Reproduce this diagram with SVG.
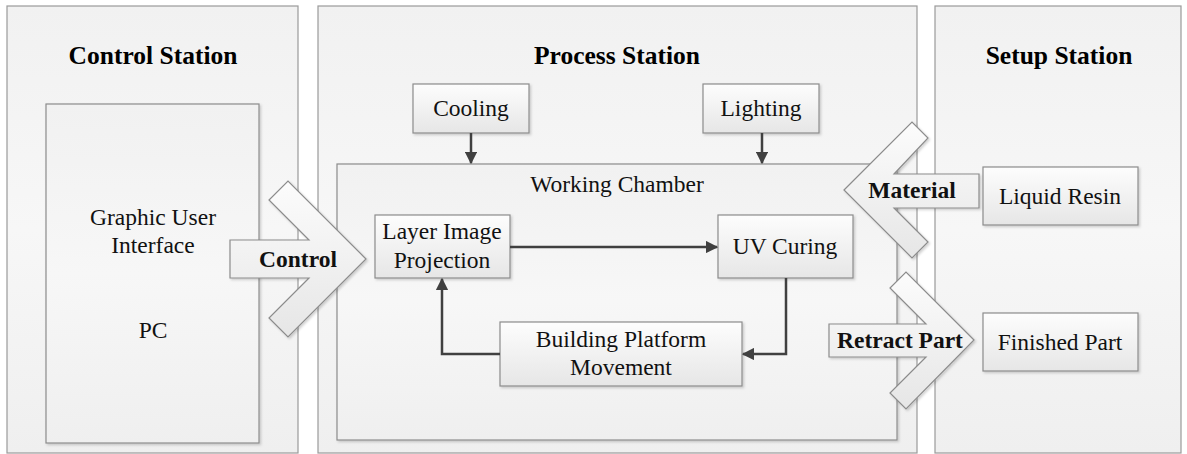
<svg xmlns="http://www.w3.org/2000/svg" width="1187" height="454" viewBox="0 0 1187 454">
<defs>
<linearGradient id="gPanel" x1="0" y1="0" x2="0" y2="1">
<stop offset="0" stop-color="#f1f1f1"/><stop offset="0.5" stop-color="#f7f7f7"/><stop offset="1" stop-color="#efefef"/>
</linearGradient>
<linearGradient id="gBox" x1="0" y1="0" x2="0" y2="1">
<stop offset="0" stop-color="#fdfdfd"/><stop offset="1" stop-color="#e6e6e6"/>
</linearGradient>
<linearGradient id="gArrow" x1="0" y1="0" x2="0" y2="1">
<stop offset="0" stop-color="#fcfcfc"/><stop offset="1" stop-color="#e6e6e6"/>
</linearGradient>
<filter id="sh" x="-10%" y="-10%" width="120%" height="130%">
<feDropShadow dx="1.5" dy="1.5" stdDeviation="1" flood-color="#000" flood-opacity="0.18"/>
</filter>
<marker id="ah" viewBox="0 0 10 10" refX="9" refY="5" markerWidth="5" markerHeight="5" orient="auto" markerUnits="strokeWidth">
<path d="M0,0 L10,5 L0,10 z" fill="#404040"/>
</marker>
<style>
.panel{fill:url(#gPanel);stroke:#9a9a9a;stroke-width:1.2}
.box{fill:url(#gBox);stroke:#8c8c8c;stroke-width:1.2;filter:url(#sh)}
.chev{fill:url(#gArrow);stroke:#8c8c8c;stroke-width:1.2;filter:url(#sh)}
.t{font-family:"Liberation Serif","Times New Roman",serif;font-size:23.5px;fill:#111;text-anchor:middle}
.b{font-weight:bold}
.title{font-family:"Liberation Serif","Times New Roman",serif;font-size:25.5px;font-weight:bold;fill:#000;text-anchor:middle}
.c{fill:none;stroke:#404040;stroke-width:2.5;marker-end:url(#ah)}
</style>
</defs>
<rect width="1187" height="454" fill="#ffffff"/>

<g id="control-station">
<rect class="panel" x="7" y="6" width="291" height="447"/>
<text class="title" x="153" y="64">Control Station</text>
</g>
<g id="process-station">
<rect class="panel" x="318" y="6" width="599" height="447"/>
<text class="title" x="617" y="64">Process Station</text>
</g>
<g id="setup-station">
<rect class="panel" x="935" y="6" width="246" height="447"/>
<text class="title" x="1059" y="64">Setup Station</text>
</g>

<g id="pc">
<rect class="box" x="46" y="104" width="213" height="339" style="fill:url(#gPanel)"/>
<text class="t" x="153" y="225">Graphic User</text>
<text class="t" x="153" y="253">Interface</text>
<text class="t" x="153" y="338">PC</text>
</g>

<g id="working-chamber">
<rect class="box" x="337" y="164" width="560" height="276" style="fill:url(#gPanel)"/>
<text class="t" x="617" y="192">Working Chamber</text>
</g>

<g id="cooling">
<rect class="box" x="413" y="84" width="116" height="49"/>
<text class="t" x="471" y="116">Cooling</text>
</g>
<g id="lighting">
<rect class="box" x="703" y="84" width="116" height="49"/>
<text class="t" x="761" y="116">Lighting</text>
</g>

<g id="layer-image-projection">
<rect class="box" x="375" y="215" width="135" height="63"/>
<text class="t" x="442" y="239">Layer Image</text>
<text class="t" x="442" y="268">Projection</text>
</g>
<g id="uv-curing">
<rect class="box" x="718" y="215" width="135" height="63"/>
<text class="t" x="785" y="254">UV Curing</text>
</g>
<g id="building-platform">
<rect class="box" x="500" y="322" width="242" height="64"/>
<text class="t" x="621" y="347">Building Platform</text>
<text class="t" x="621" y="375">Movement</text>
</g>

<g id="liquid-resin">
<rect class="box" x="983" y="167" width="155" height="58"/>
<text class="t" x="1060" y="204">Liquid Resin</text>
</g>
<g id="finished-part">
<rect class="box" x="983" y="313" width="155" height="58"/>
<text class="t" x="1060" y="350">Finished Part</text>
</g>

<g id="control-arrow">
<polygon class="chev" points="366,259 288,181 269,200 309,240 230,240 230,278 309,278 269,318 288,337"/>
<text class="t b" x="298" y="267">Control</text>
</g>
<g id="material-arrow">
<polygon class="chev" points="844,190 912,122 928,138 894,174 979,174 979,208 894,208 928,242 912,258"/>
<text class="t b" x="912" y="198">Material</text>
</g>
<g id="retract-arrow">
<polygon class="chev" points="974,340 906,272 890,288 926,324 829,324 829,357 926,357 890,393 906,409"/>
<text class="t b" x="900" y="348">Retract Part</text>
</g>

<g id="connectors">
<path class="c" d="M471,133 L471,163"/>
<path class="c" d="M762,133 L762,163"/>
<path class="c" d="M510,247 L717,247"/>
<path class="c" d="M786,278 L786,354 L743,354"/>
<path class="c" d="M500,354 L442,354 L442,279"/>
</g>
</svg>
